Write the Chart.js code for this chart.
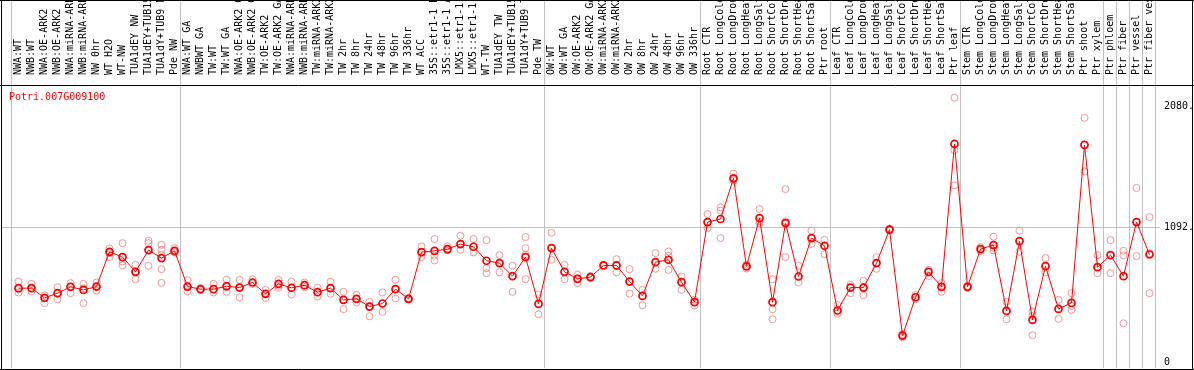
<!DOCTYPE html>
<html>
<head>
<meta charset="utf-8">
<script src="https://cdn.jsdelivr.net/npm/chart.js@4"></script>
<style>
  html, body { margin: 0; padding: 0; background: #fff; }
  #wrap { width: 1194px; height: 370px; position: relative; }
</style>
</head>
<body>
<div id="wrap"><canvas id="chart"></canvas></div>
<script>
// expression profile for one gene, mean line + replicate circles

const geneId = 'Potri.007G009100';

const labels = [
  'NWA:WT', 'NWB:WT', 'NWA:OE-ARK2', 'NWB:OE-ARK2', 'NWA:miRNA-ARK2', 'NWB:miRNA-ARK2',
  'NW 0hr', 'WT H2O', 'WT-NW', 'TUA1dEY NW', 'TUA1dEY+TUB15 NW', 'TUA1dY+TUB9 NW', 'Pde NW',
  'NWA:WT GA', 'NWBWT GA', 'TW:WT', 'TW:WT GA', 'NWA:OE-ARK2 GA', 'NWB:OE-ARK2 GA',
  'TW:OE-ARK2', 'TW:OE-ARK2 GA', 'NWA:miRNA-ARK2 GA', 'NWB:miRNA-ARK2 GA', 'TW:miRNA-ARK2',
  'TW:miRNA-ARK2 GA', 'TW 2hr', 'TW 8hr', 'TW 24hr', 'TW 48hr', 'TW 96hr', 'TW 336hr', 'WT ACC',
  '35S::etr1-1 H2O', '35S::etr1-1 ACC', 'LMX5::etr1-1 H2O', 'LMX5::etr1-1 ACC', 'WT-TW',
  'TUA1dEY TW', 'TUA1dEY+TUB15 TW', 'TUA1dY+TUB9 TW', 'Pde TW',
  'OW:WT', 'OW:WT GA', 'OW:OE-ARK2', 'OW:OE-ARK2 GA', 'OW:miRNA-ARK2', 'OW:miRNA-ARK2 GA',
  'OW 2hr', 'OW 8hr', 'OW 24hr', 'OW 48hr', 'OW 96hr', 'OW 336hr',
  'Root CTR', 'Root LongCold', 'Root LongDrought', 'Root LongHeat', 'Root LongSalt',
  'Root ShortCold', 'Root ShortDrought', 'Root ShortHeat', 'Root ShortSalt', 'Ptr root',
  'Leaf CTR', 'Leaf LongCold', 'Leaf LongDrought', 'Leaf LongHeat', 'Leaf LongSalt',
  'Leaf ShortCold', 'Leaf ShortDrought', 'Leaf ShortHeat', 'Leaf ShortSalt', 'Ptr leaf',
  'Stem CTR', 'Stem LongCold', 'Stem LongDrought', 'Stem LongHeat', 'Stem LongSalt',
  'Stem ShortCold', 'Stem ShortDrought', 'Stem ShortHeat', 'Stem ShortSalt', 'Ptr shoot',
  'Ptr xylem', 'Ptr phloem', 'Ptr fiber', 'Ptr vessel', 'Ptr fiber vessel'
];

const means = [
  601, 601, 522, 560, 612, 587, 614, 897, 854, 734, 911, 846, 905,
  614, 593, 593, 617, 606, 647, 555, 636, 604, 625, 568, 601, 506, 514, 451, 476,
  593, 514, 895, 905, 919, 960, 938, 824, 805, 699, 854, 473,
  927, 734, 677, 691, 786, 786, 655, 538, 813, 832, 650, 487,
  1139, 1164, 1495, 778, 1172, 487, 1131, 696, 1009, 946,
  419, 606, 606, 805, 1077, 215, 527, 734, 612, 1775,
  612, 919, 952, 416, 984, 343, 780, 432, 481, 1767,
  772, 870, 699, 1139, 875
];

const reps = [
  [655, 593, 566], [636, 601, 574], [544, 522, 479], [609, 560, 511], [642, 614, 560],
  [636, 601, 479], [647, 614, 582], [924, 886, 854], [968, 818, 788], [791, 734, 674],
  [987, 968, 783], [954, 914, 873, 756, 644], [927, 905, 892],
  [666, 609, 574], [600, 593, 586], [636, 593, 566], [669, 609, 571], [669, 609, 527],
  [674, 647, 636], [587, 555, 522], [669, 620, 604], [655, 604, 549], [647, 625, 609],
  [606, 568, 533], [653, 601, 555], [571, 506, 430], [546, 514, 484], [489, 451, 372],
  [566, 476, 408], [669, 593, 517], [520, 514, 508], [941, 895, 854], [1001, 865, 827],
  [941, 919, 908], [1028, 960, 914], [1001, 938, 892], [992, 764, 723], [870, 805, 731],
  [783, 699, 571], [1017, 927, 873, 674], [549, 473, 389],
  [1052, 927, 832], [790, 734, 674], [712, 677, 642], [700, 691, 682], [790, 786, 782],
  [837, 786, 729], [756, 655, 557], [587, 538, 462], [886, 813, 759], [900, 865, 832, 750],
  [696, 650, 587], [506, 487, 459],
  [1204, 1139, 1090], [1259, 1232, 1009], [1533, 1495, 1479], [792, 778, 760],
  [1245, 1145, 1130], [674, 487, 430, 348], [1408, 1145, 854], [783, 696, 647],
  [1069, 1009, 960], [995, 946, 878],
  [465, 419, 392], [628, 606, 560], [661, 606, 544], [854, 805, 759], [1085, 1077, 1070],
  [228, 215, 201], [546, 527, 511], [750, 734, 701], [642, 612, 571], [2151, 1724, 1438],
  [620, 612, 605], [935, 919, 903], [1020, 930, 908], [492, 416, 348], [1069, 984, 897],
  [411, 375, 218], [846, 780, 729], [506, 432, 351], [560, 457, 424], [1988, 1767, 1552],
  [870, 772, 723], [992, 870, 723], [905, 867, 315], [1417, 1139, 862], [1180, 885, 560]
];

const yTicks = [0, 1092, 2080];
const yTickLabels = ['0', '1092.', '2080.'];
// first sample index of every block (last entry = end)
const groupBreaks = [0, 13, 41, 53, 63, 73, 84, 85, 86, 87, 88];

const FONT = "'DejaVu Sans Mono', 'Liberation Mono', monospace";
Chart.defaults.font.family = FONT;
Chart.defaults.font.size = 10;
Chart.defaults.color = '#000';
Chart.defaults.animation = false;

const meanPoints = means.map((v, i) => ({ x: i, y: v }));
const repPoints = reps.flatMap((r, i) => r.map(v => ({ x: i, y: v })));

const framePlugin = {
  id: 'frame',
  beforeDatasetsDraw(chart) {
    const c = chart.ctx;
    const xs = chart.scales.x;
    const area = chart.chartArea;
    c.save();
    c.strokeStyle = '#c0c0c0';
    c.lineWidth = 1;
    groupBreaks.forEach(b => {
      const x = Math.round(xs.getPixelForValue(b - 0.5)) - 0.5;
      c.beginPath();
      c.moveTo(x, 0);
      c.lineTo(x, area.bottom);
      c.stroke();
    });
    c.restore();
  },
  afterDraw(chart) {
    const c = chart.ctx;
    const area = chart.chartArea;
    const W = chart.width;
    c.save();
    c.strokeStyle = '#000';
    c.lineWidth = 1;
    c.beginPath();
    c.moveTo(1.5, 0); c.lineTo(1.5, chart.height);
    c.moveTo(W - 1.5, 0); c.lineTo(W - 1.5, chart.height);
    c.moveTo(0, 0.5); c.lineTo(W, 0.5);
    c.moveTo(0, Math.round(area.top) + 0.5); c.lineTo(W, Math.round(area.top) + 0.5);
    c.moveTo(0, Math.round(area.bottom) + 0.5); c.lineTo(W, Math.round(area.bottom) + 0.5);
    c.stroke();
    // gene id
    c.fillStyle = '#ff0000';
    c.font = '10px ' + FONT;
    c.textAlign = 'left';
    c.textBaseline = 'middle';
    c.fillText(geneId, 9, area.top + 12);
    c.restore();
  }
};

new Chart(document.getElementById('chart'), {
  type: 'line',
  data: {
    datasets: [
      {
        label: 'mean',
        data: meanPoints,
        borderColor: '#ff0000',
        borderWidth: 1,
        pointRadius: 3.5,
        pointBorderWidth: 1.7,
        pointBorderColor: '#ff0000',
        pointBackgroundColor: 'rgba(0,0,0,0)',
        tension: 0
      },
      {
        label: 'replicates',
        data: repPoints,
        showLine: false,
        pointRadius: 3.5,
        pointBorderWidth: 1,
        pointBorderColor: 'rgba(235,125,125,0.8)',
        pointBackgroundColor: 'rgba(0,0,0,0)'
      }
    ]
  },
  options: {
    responsive: true,
    maintainAspectRatio: false,
    layout: { autoPadding: false, padding: { left: 2, right: 0, top: 0, bottom: 1.5 } },
    plugins: {
      legend: { display: false },
      tooltip: { enabled: false },
      title: { display: false }
    },
    scales: {
      x: {
        type: 'linear',
        position: 'top',
        min: -1.27,
        max: 87.5,
        grid: { display: false },
        border: { display: false },
        afterBuildTicks: (s) => { s.ticks = labels.map((_, i) => ({ value: i })); },
        afterFit: (s) => { s.height = 85; s.paddingLeft = 0; s.paddingRight = 0; },
        ticks: {
          autoSkip: false,
          minRotation: 90,
          maxRotation: 90,
          padding: 2,
          labelOffset: 12,
          color: '#000',
          font: { size: 10 },
          callback: (v) => labels[v]
        }
      },
      y: {
        type: 'linear',
        position: 'right',
        min: -53,
        max: 2255,
        border: { display: false },
        afterBuildTicks: (s) => { s.ticks = yTicks.map(v => ({ value: v })); },
        afterFit: (s) => { s.width = 38; s.paddingTop = 0; s.paddingBottom = 0; },
        grid: {
          color: (ctx) => (ctx.tick && ctx.tick.value === 1092) ? '#c0c0c0' : 'rgba(0,0,0,0)',
          tickLength: 4,
          drawTicks: true
        },
        ticks: {
          padding: 4,
          color: '#000',
          font: { size: 10 },
          callback: (v) => yTickLabels[yTicks.indexOf(v)]
        }
      }
    }
  },
  plugins: [framePlugin]
});
</script>
</body>
</html>
